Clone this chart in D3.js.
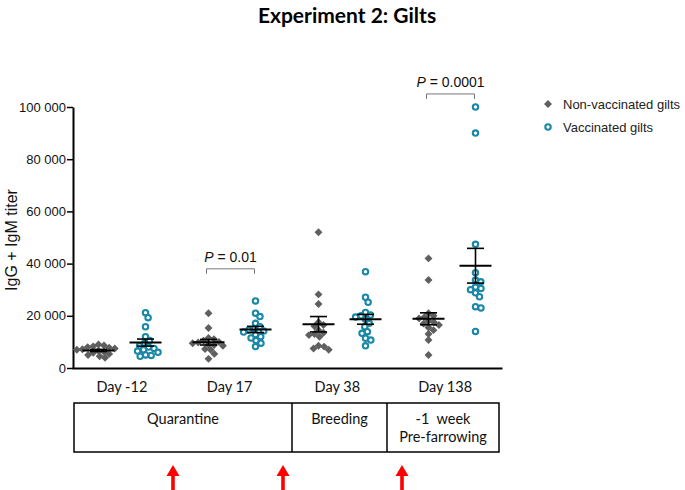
<!DOCTYPE html>
<html><head><meta charset="utf-8">
<script src="https://cdn.jsdelivr.net/npm/d3@7"></script>
<style>body{margin:0;background:#fff}svg{display:block}</style>
</head><body>
<svg id="c" width="685" height="490"></svg>
<script>
const days = ["Day -12", "Day 17", "Day 38", "Day 138"];
const groups = ["Non-vaccinated gilts", "Vaccinated gilts"];
const nonVaccinated = [
  [9000, 8600, 8300, 8000, 7800, 7500, 7200, 7000, 6600, 6200, 5800, 5400, 5000, 4500, 3900],
  [21000, 15300, 11500, 11000, 10500, 10000, 9800, 9500, 9000, 8800, 8500, 7300, 7000, 5400, 3500],
  [52000, 28200, 24500, 17500, 16500, 16000, 14500, 13500, 13000, 12600, 12000, 8500, 8200, 7500, 7000],
  [42000, 33700, 21000, 20000, 19500, 19000, 18000, 17500, 17000, 16500, 15500, 14500, 13000, 10700, 5000]
];
const vaccinated = [
  [21200, 19300, 15800, 12000, 10500, 9500, 8500, 8000, 7500, 7000, 6500, 6000, 5000, 4800, 4500],
  [25700, 21000, 19700, 17100, 15800, 15000, 14600, 14200, 13800, 12800, 12000, 11500, 10500, 9500, 8200],
  [36900, 27100, 25200, 21300, 20300, 20000, 19500, 18700, 17100, 15800, 13900, 13300, 11400, 10700, 8500],
  [100000, 90000, 47400, 36500, 33700, 33000, 31000, 30500, 30000, 28800, 27300, 23500, 23000, 14000]
];
const yTicks = [0, 20000, 40000, 60000, 80000, 100000];
const pValues = [{day: "Day 17", text: "0.01", level: 38000}, {day: "Day 138", text: "0.0001", level: 105000}];
const phases = [
  {lines: ["Quarantine"], x0: 74, x1: 292},
  {lines: ["Breeding"], x0: 292, x1: 387},
  {lines: ["-1  week", "Pre-farrowing"], x0: 387, x1: 499}
];
const arrowsX = [173, 283, 402];

const colors = {"Non-vaccinated gilts": "#5f5f5f", "Vaccinated gilts": "#1a88a6"};
const svg = d3.select("#c");
const sans = "'Liberation Sans', Arial, sans-serif";
const cal = "Lato, 'Open Sans', sans-serif";

const x = d3.scaleBand().domain(days).range([67, 507]);
const xLab = d3.scaleBand().domain(days).range([68, 499]);
const inner = d3.scalePoint().domain(groups).range([-23.5, 23.5]);
const y = d3.scaleLinear().domain([0, 100000]).range([368, 107]);
const fmt = v => d3.format(",")(v).replace(/,/g, " ");

// title
svg.append("text").attr("x", 347).attr("y", 23).attr("text-anchor", "middle")
  .attr("font-family", cal).attr("font-weight", "bold")
  .attr("font-size", 21).attr("fill", "#000").text("Experiment 2: Gilts");

// y axis
const yAxis = svg.append("g").attr("transform", "translate(73,0)")
  .call(d3.axisLeft(y).tickValues(yTicks).tickFormat(fmt).tickSize(6).tickSizeOuter(0));
yAxis.select(".domain").attr("stroke", "#000").attr("stroke-width", 2);
yAxis.selectAll(".tick line").attr("stroke", "#000").attr("stroke-width", 1.5);
yAxis.selectAll(".tick text").attr("font-family", sans)
  .attr("font-size", 13).attr("fill", "#111").attr("x", -7);

// x axis line
const xAxis = svg.append("g").attr("transform", "translate(0,368)")
  .call(d3.axisBottom(d3.scaleLinear().domain([0, 1]).range([72, 502])).tickValues([]).tickSizeOuter(0));
xAxis.select(".domain").attr("stroke", "#000").attr("stroke-width", 2);

// y label
svg.append("text").attr("transform", "translate(17,240) rotate(-90)").attr("text-anchor", "middle")
  .attr("font-family", sans).attr("font-size", 16).attr("fill", "#111")
  .text("IgG + IgM titer");

// beeswarm (layout only)
function swarm(vals, D) {
  const pts = vals.map(v => ({v, py: y(v)})).sort((a, b) => b.v - a.v);
  const placed = [];
  pts.forEach(p => {
    const near = placed.filter(q => Math.abs(q.py - p.py) < D);
    const cands = [0];
    near.forEach(q => {
      const dx = Math.sqrt(D * D - (q.py - p.py) ** 2);
      cands.push(q.dx + dx + 0.01, q.dx - dx - 0.01);
    });
    cands.sort((a, b) => Math.abs(a) - Math.abs(b) || b - a);
    for (const c of cands) {
      if (near.every(q => (q.dx - c) ** 2 + (q.py - p.py) ** 2 >= D * D - 0.01)) { p.dx = c; break; }
    }
    placed.push(p);
  });
  return placed;
}

const diamond = d3.symbol().type(d3.symbolDiamond2).size(40);
days.forEach((day, i) => {
  [[groups[0], nonVaccinated[i]], [groups[1], vaccinated[i]]].forEach(([g, vals]) => {
    const cx = x(day) + x.bandwidth() / 2 + inner(g);
    const pts = swarm(vals, 5.6);
    const gg = svg.append("g");
    if (g === groups[0]) {
      gg.selectAll("path").data(pts).join("path")
        .attr("d", diamond).attr("transform", p => `translate(${cx + p.dx},${p.py})`)
        .attr("fill", colors[g]);
    } else {
      gg.selectAll("circle").data(pts).join("circle")
        .attr("cx", p => cx + p.dx).attr("cy", p => p.py).attr("r", 2.7)
        .attr("fill", "#fff").attr("stroke", colors[g]).attr("stroke-width", 2.1);
    }
    const m = d3.mean(vals), se = d3.deviation(vals) / Math.sqrt(vals.length);
    const s = svg.append("g").attr("stroke", "#000").attr("stroke-width", 2);
    s.append("line").attr("x1", cx - 16).attr("x2", cx + 16).attr("y1", y(m)).attr("y2", y(m));
    s.append("line").attr("x1", cx).attr("x2", cx).attr("y1", y(m + se)).attr("y2", y(m - se)).attr("stroke-width", 1.6);
    [m + se, m - se].forEach(v => s.append("line").attr("x1", cx - 8.5).attr("x2", cx + 8.5)
      .attr("y1", y(v)).attr("y2", y(v)).attr("stroke-width", 1.6));
  });
});

// p-value brackets
pValues.forEach(p => {
  const by = y(p.level);
  const xa = x(p.day) + x.bandwidth() / 2 + inner(groups[0]) - 2;
  const xb = x(p.day) + x.bandwidth() / 2 + inner(groups[1]) - 1;
  svg.append("path").attr("d", `M${xa},${by + 5}V${by}H${xb}V${by + 5}`)
    .attr("fill", "none").attr("stroke", "#777").attr("stroke-width", 1);
  const t = svg.append("text").attr("x", (xa + xb) / 2).attr("y", by - 7).attr("text-anchor", "middle")
    .attr("font-family", sans).attr("font-size", 14).attr("fill", "#111");
  t.append("tspan").attr("font-style", "italic").text("P");
  t.append("tspan").text(" = " + p.text);
});

// legend
const lg = svg.append("g").attr("font-family", sans).attr("font-size", 13);
groups.forEach((g, i) => {
  const ly = 104 + i * 23;
  if (i === 0) lg.append("path").attr("d", diamond).attr("transform", `translate(548,${ly})`).attr("fill", colors[g]);
  else lg.append("circle").attr("cx", 548).attr("cy", ly).attr("r", 2.7).attr("fill", "#fff")
    .attr("stroke", colors[g]).attr("stroke-width", 2.1);
  lg.append("text").attr("x", 563).attr("y", ly + 5).attr("fill", "#222").text(g);
});

// day labels
svg.append("g").selectAll("text").data(days).join("text")
  .attr("x", d => xLab(d) + xLab.bandwidth() / 2).attr("y", 392).attr("text-anchor", "middle")
  .attr("font-family", cal).attr("font-size", 14.5).attr("fill", "#111")
  .text(d => d);

// timeline box
const tb = svg.append("g");
tb.append("rect").attr("x", 74).attr("y", 403).attr("width", 425).attr("height", 49)
  .attr("fill", "none").attr("stroke", "#000").attr("stroke-width", 1.5);
phases.forEach((ph, i) => {
  if (i > 0) tb.append("line").attr("x1", ph.x0).attr("x2", ph.x0).attr("y1", 403).attr("y2", 452)
    .attr("stroke", "#000").attr("stroke-width", 1.5);
  ph.lines.forEach((l, j) => tb.append("text").attr("x", (ph.x0 + ph.x1) / 2).attr("y", 424 + j * 18)
    .attr("text-anchor", "middle").attr("font-family", cal)
    .attr("font-size", 14.5).attr("fill", "#111").attr("xml:space", "preserve").text(l));
});

// red arrows
arrowsX.forEach(ax => {
  svg.append("path").attr("d", `M${ax},465 L${ax + 6.5},476 L${ax + 1.8},476 L${ax + 1.8},490 L${ax - 1.8},490 L${ax - 1.8},476 L${ax - 6.5},476 Z`)
    .attr("fill", "#ff0000");
});
</script>
</body></html>
